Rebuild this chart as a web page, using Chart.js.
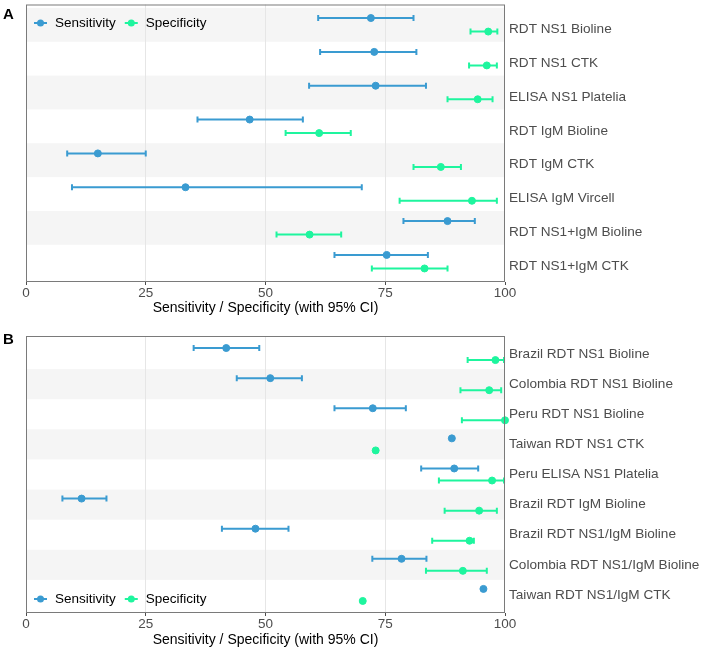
<!DOCTYPE html>
<html>
<head>
<meta charset="utf-8">
<script src="https://cdn.jsdelivr.net/npm/chart.js@4.4.0/dist/chart.umd.min.js"></script>
<style>
  body { margin: 0; background: #fff; }
  #chartA { position: absolute; left: 0; top: 0; }
  #chartB { position: absolute; left: 0; top: 319px; }
</style>
</head>
<body>
<canvas id="chartA" width="704" height="319"></canvas>
<canvas id="chartB" width="704" height="332"></canvas>
<script>
// Panel A - assays
const labelsA = ["RDT NS1 Bioline", "RDT NS1 CTK", "ELISA NS1 Platelia", "RDT IgM Bioline",
  "RDT IgM CTK", "ELISA IgM Vircell", "RDT NS1+IgM Bioline", "RDT NS1+IgM CTK"];
const sensA     = [72.0, 72.7, 73.0, 46.7, 15.0, 33.3, 88.0, 75.3];
const sensLowA  = [61.0, 61.4, 59.1, 35.8,  8.6,  9.6, 78.8, 64.4];
const sensHighA = [80.9, 81.5, 83.5, 57.8, 25.0, 70.1, 93.7, 83.9];
const specA     = [96.5, 96.2, 94.3, 61.2, 86.6, 93.1, 59.2, 83.2];
const specLowA  = [92.8, 92.5, 88.0, 54.2, 80.9, 78.0, 52.3, 72.2];
const specHighA = [98.4, 98.3, 97.4, 67.8, 90.8, 98.3, 65.8, 88.0];

// Panel B - by country
const labelsB = ["Brazil RDT NS1 Bioline", "Colombia RDT NS1 Bioline", "Peru RDT NS1 Bioline",
  "Taiwan RDT NS1 CTK", "Peru ELISA NS1 Platelia", "Brazil RDT IgM Bioline",
  "Brazil RDT NS1/IgM Bioline", "Colombia RDT NS1/IgM Bioline", "Taiwan RDT NS1/IgM CTK"];
const sensB     = [41.8, 51.0, 72.4, 88.9, 89.4, 11.6, 47.9, 78.4, 95.5];
const sensLowB  = [35.0, 44.0, 64.4, null, 82.5,  7.6, 40.9, 72.3, null];
const sensHighB = [48.7, 57.6, 79.3, null, 94.4, 16.8, 54.8, 83.6, null];
const specB     = [98.0, 96.7, 100,  73.0, 97.3, 94.6, 92.6, 91.2, 70.3];
const specLowB  = [92.2, 90.7, 91.0, null, 86.2, 87.4, 84.8, 83.5, null];
const specHighB = [99.8, 99.2, 100,  null, 99.8, 98.3, 93.5, 96.2, null];

const xTicks = [0, 25, 50, 75, 100];
const seriesNames = ["Sensitivity", "Specificity"];

const SENS_COLOR = "#3a9bd1";
const SPEC_COLOR = "#1ef59e";
const FONT = "'Liberation Sans', Arial, sans-serif";

// shaded row bands, gridlines drawn on top
const bandsPlugin = {
  id: "bands",
  beforeDraw(chart) {
    const { ctx, chartArea, scales } = chart;
    const n = chart.options.plugins.bands.rows;
    ctx.save();
    ctx.fillStyle = "#f5f5f5";
    for (let i = 1; i <= n; i++) {
      if ((n - i) % 2 === 1) {
        const y1 = scales.y.getPixelForValue(i - 0.5);
        const y2 = scales.y.getPixelForValue(i + 0.5);
        ctx.fillRect(chartArea.left, y1, chartArea.right - chartArea.left, y2 - y1);
      }
    }
    ctx.restore();
  }
};

// error bars with caps
const errorBarsPlugin = {
  id: "errorBars",
  beforeDatasetsDraw(chart) {
    const { ctx, scales } = chart;
    const bars = chart.options.plugins.errorBars.bars;
    ctx.save();
    ctx.lineWidth = 2;
    bars.forEach(b => {
      ctx.strokeStyle = b.color;
      b.low.forEach((lo, i) => {
        const hi = b.high[i];
        if (lo == null || hi == null) return;
        const y = scales.y.getPixelForValue(i + 1 + b.offset);
        const x1 = scales.x.getPixelForValue(lo);
        const x2 = scales.x.getPixelForValue(hi);
        ctx.beginPath();
        ctx.moveTo(x1, y); ctx.lineTo(x2, y);
        ctx.moveTo(x1, y - 3); ctx.lineTo(x1, y + 3);
        ctx.moveTo(x2, y - 3); ctx.lineTo(x2, y + 3);
        ctx.stroke();
      });
    });
    ctx.restore();
  }
};

// border, legend and panel letter
const decorPlugin = {
  id: "decor",
  afterDraw(chart) {
    const { ctx, chartArea } = chart;
    const o = chart.options.plugins.decor;
    ctx.save();
    ctx.strokeStyle = "#7a7a7a";
    ctx.lineWidth = 1;
    ctx.strokeRect(chartArea.left + 0.5, chartArea.top + 0.5,
      chartArea.right - chartArea.left - 1, chartArea.bottom - chartArea.top - 1);

    ctx.font = "bold 15px " + FONT;
    ctx.fillStyle = "#000";
    ctx.textBaseline = "middle";
    ctx.fillText(o.letter, 3, o.letterY);

    // legend
    ctx.font = "13.5px " + FONT;
    let x = 34;
    [SENS_COLOR, SPEC_COLOR].forEach((c, k) => {
      ctx.strokeStyle = c; ctx.fillStyle = c; ctx.lineWidth = 2;
      ctx.beginPath(); ctx.moveTo(x, o.legendY); ctx.lineTo(x + 13, o.legendY); ctx.stroke();
      ctx.beginPath(); ctx.arc(x + 6.5, o.legendY, 3.5, 0, Math.PI * 2); ctx.fill();
      ctx.fillStyle = "#000";
      ctx.fillText(seriesNames[k], x + 21, o.legendY);
      x += 21 + ctx.measureText(seriesNames[k]).width + 9;
    });
    ctx.restore();
  }
};

function makeChart(id, labels, sens, sensLow, sensHigh, spec, specLow, specHigh, opt) {
  const n = labels.length;
  return new Chart(document.getElementById(id), {
    type: "scatter",
    data: {
      datasets: [
        {
          label: seriesNames[0],
          data: sens.map((v, i) => ({ x: v, y: i + 1 - 0.2 })),
          backgroundColor: SENS_COLOR, borderColor: SENS_COLOR,
          pointRadius: 3.5, pointHoverRadius: 3.5, clip: false
        },
        {
          label: seriesNames[1],
          data: spec.map((v, i) => ({ x: v, y: i + 1 + 0.2 })),
          backgroundColor: SPEC_COLOR, borderColor: SPEC_COLOR,
          pointRadius: 3.5, pointHoverRadius: 3.5, clip: false
        }
      ]
    },
    options: {
      responsive: false,
      animation: false,
      layout: { padding: { left: 26, top: opt.top, right: 0, bottom: 0 } },
      scales: {
        x: {
          type: "linear", min: 0, max: 100,
          afterBuildTicks: s => { s.ticks = xTicks.map(v => ({ value: v })); },
          grid: {
            color: c => (c.tick && (c.tick.value === 0 || c.tick.value === 100)) ? "rgba(0,0,0,0)" : "#e6e6e6",
            tickLength: 3, tickColor: "#4d4d4d"
          },
          border: { display: false },
          ticks: { color: "#4d4d4d", font: { family: FONT, size: 13.5 }, padding: 0, maxRotation: 0 },
          title: {
            display: true, text: "Sensitivity / Specificity (with 95% CI)",
            color: "#000", font: { family: FONT, size: 14 }, padding: 2
          },
          afterFit: s => { s.height = opt.xHeight; s.paddingLeft = 0; s.paddingRight = 0; }
        },
        y: {
          type: "linear", position: "right", reverse: true, min: 0.4, max: n + 0.6,
          afterBuildTicks: s => { s.ticks = labels.map((l, i) => ({ value: i + 1 })); },
          grid: { display: false, drawTicks: false },
          border: { display: false },
          ticks: {
            callback: v => labels[v - 1], color: "#4d4d4d", autoSkip: false,
            font: { family: FONT, size: 13.6 }, padding: 4, labelOffset: opt.labelOffset
          },
          afterFit: s => { s.width = 199; s.paddingTop = 0; s.paddingBottom = 0; }
        }
      },
      plugins: {
        legend: { display: false },
        tooltip: { enabled: false },
        bands: { rows: n },
        errorBars: {
          bars: [
            { low: sensLow, high: sensHigh, color: SENS_COLOR, offset: -0.2 },
            { low: specLow, high: specHigh, color: SPEC_COLOR, offset: 0.2 }
          ]
        },
        decor: { letter: opt.letter, letterY: opt.letterY, legendY: opt.legendY }
      }
    },
    plugins: [bandsPlugin, errorBarsPlugin, decorPlugin]
  });
}

makeChart("chartA", labelsA, sensA, sensLowA, sensHighA, specA, specLowA, specHighA,
  { top: 3, xHeight: 37, labelOffset: 4.5, letter: "A", letterY: 15, legendY: 23 });
makeChart("chartB", labelsB, sensB, sensLowB, sensHighB, specB, specLowB, specHighB,
  { top: 17, xHeight: 38, labelOffset: 0, letter: "B", letterY: 21, legendY: 280 });
</script>
</body>
</html>
